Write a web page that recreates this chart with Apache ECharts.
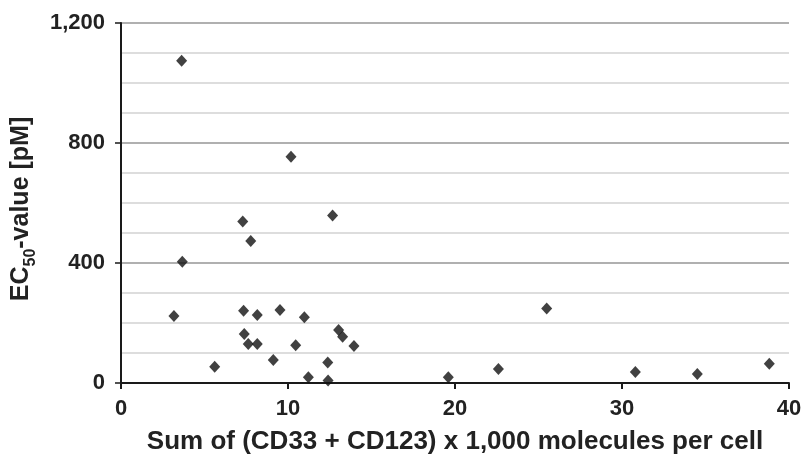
<!DOCTYPE html>
<html>
<head>
<meta charset="utf-8">
<script src="https://cdn.jsdelivr.net/npm/echarts@6/dist/echarts.min.js"></script>
<style>html,body{margin:0;padding:0;background:#fff}#c{width:802px;height:456px}</style>
</head>
<body>
<div id="c"></div>
<script>
// Sum of (CD33 + CD123) x 1,000 molecules per cell
var xValues = [3.63, 10.18, 7.29, 12.67, 7.77, 3.67, 3.17, 7.34, 8.16, 9.52, 10.98, 7.38, 7.62, 8.16, 10.46,
               13.03, 13.27, 13.95, 9.12, 5.61, 12.38, 11.22, 12.40, 19.6, 22.6, 25.49, 30.8, 34.51, 38.82];
// EC50-value [pM]
var yValues = [1074, 754, 538, 558, 473, 404, 223, 241, 227, 243, 219, 163, 130, 130, 126,
               177, 154, 123, 77, 54, 68, 19, 8, 19, 47, 248, 37, 30, 64];
var xTicks = [0, 10, 20, 30, 40];
var yTicks = [0, 400, 800, 1200];

var points = xValues.map(function (x, i) { return [x, yValues[i]]; });
var font = '"Liberation Sans", Arial, sans-serif';

var chart = echarts.init(document.getElementById('c'), null, { renderer: 'canvas' });
chart.setOption({
  animation: false,
  backgroundColor: '#fff',
  grid: { left: 121, right: 13, top: 23, bottom: 73, containLabel: false, outerBoundsMode: 'none' },
  xAxis: {
    type: 'value',
    min: xTicks[0], max: xTicks[xTicks.length - 1], interval: 10,
    name: 'Sum of (CD33 + CD123) x 1,000 molecules per cell',
    nameLocation: 'middle', nameGap: 46,
    nameTextStyle: { fontFamily: font, fontWeight: 'bold', fontSize: 26, color: '#222' },
    axisLine: { show: true, onZero: false, lineStyle: { color: '#1a1a1a', width: 2 } },
    axisTick: { show: true, length: 6, inside: false, lineStyle: { color: '#1a1a1a', width: 2 } },
    axisLabel: { margin: 15, fontFamily: font, fontWeight: 'bold', fontSize: 22, color: '#222',
      formatter: function (v) { return xTicks.indexOf(v) >= 0 ? String(v) : ''; } },
    splitLine: { show: false }
  },
  yAxis: {
    type: 'value',
    min: yTicks[0], max: yTicks[yTicks.length - 1], interval: 400,
    name: '{m|EC}{s|50}{m|-value [pM]}',
    nameLocation: 'middle', nameGap: 82, nameRotate: 90,
    nameTextStyle: {
      padding: [0, 12, 0, 0],
      rich: {
        m: { fontFamily: font, fontWeight: 'bold', fontSize: 25, color: '#222', lineHeight: 30, verticalAlign: 'bottom' },
        s: { fontFamily: font, fontWeight: 'bold', fontSize: 16, color: '#222', lineHeight: 30, verticalAlign: 'bottom', padding: [0, 0, -5, 0] }
      }
    },
    axisLine: { show: true, lineStyle: { color: '#1a1a1a', width: 2 } },
    axisTick: { show: true, length: 6, lineStyle: { color: '#1a1a1a', width: 1.5 } },
    axisLabel: { margin: 16, fontFamily: font, fontWeight: 'bold', fontSize: 22, color: '#222',
      formatter: function (v) { return yTicks.indexOf(v) >= 0 ? v.toLocaleString('en-US') : ''; } },
    splitLine: { show: true, lineStyle: { color: '#b0b0b0', width: 2 } },
    minorTick: { show: false, splitNumber: 4 },
    minorSplitLine: { show: true, lineStyle: { color: '#d2d2d2', width: 1.5 } }
  },
  series: [{
    type: 'scatter',
    data: points,
    symbol: 'diamond',
    symbolSize: [11, 12],
    itemStyle: { color: '#111' }
  }]
});
</script>
</body>
</html>
